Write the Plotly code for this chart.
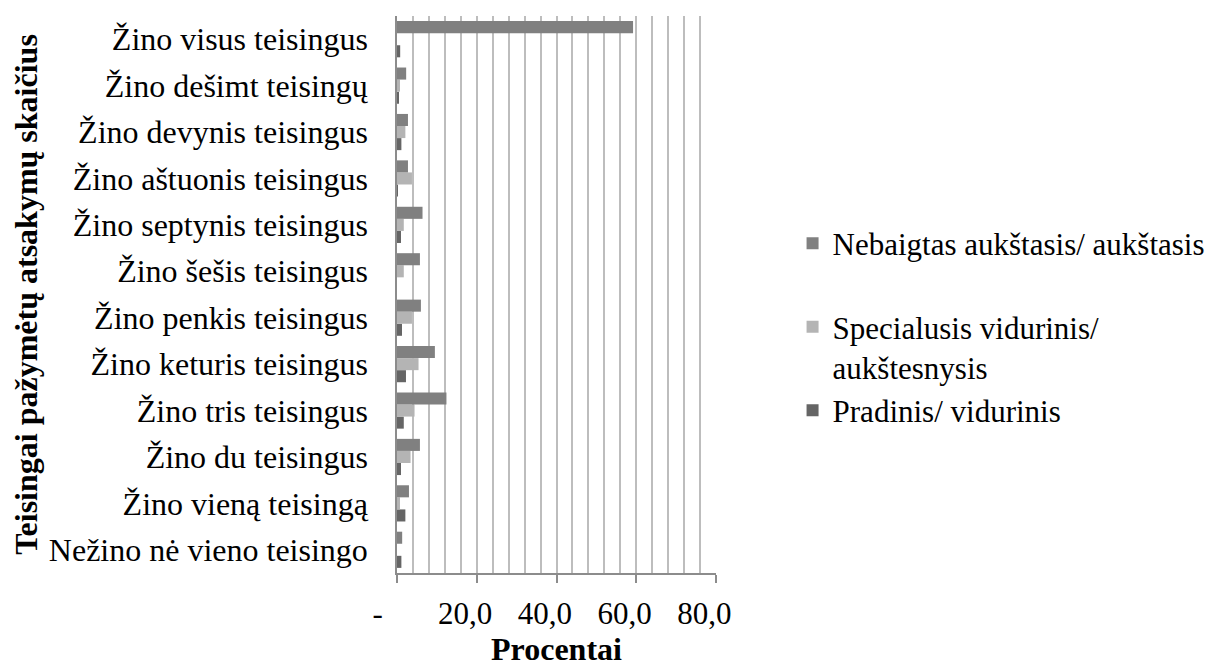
import plotly.graph_objects as go

categories = ["Nežino nė vieno teisingo", "Žino vieną teisingą", "Žino du teisingus",
              "Žino tris teisingus", "Žino keturis teisingus", "Žino penkis teisingus",
              "Žino šešis teisingus", "Žino septynis teisingus", "Žino aštuonis teisingus",
              "Žino devynis teisingus", "Žino dešimt teisingų", "Žino visus teisingus"]

nebaigtas = [1.3, 3.0, 5.75, 12.4, 9.5, 6.0, 5.75, 6.4, 2.75, 2.75, 2.3, 59.2]
specialusis = [0.0, 0.75, 3.4, 4.4, 5.4, 3.75, 1.7, 1.7, 3.75, 2.1, 0.75, 0.0]
pradinis = [1.1, 2.1, 1.0, 1.7, 2.25, 1.25, 0.0, 1.0, 0.25, 1.1, 0.4, 0.8]

nb = "\u00a0"
names = ["Pradinis/ vidurinis", "Specialusis vidurinis/<br>aukštesnysis",
         "Nebaigtas aukštasis/ aukštasis<br>" + nb]
ranks = [3, 2, 1]
colors = ["#656565", "#b4b4b4", "#808080"]

tick_vals = [0, 20, 40, 60, 80]
tick_text = ["-" + nb * 5, "20,0" + nb * 3, "40,0" + nb * 3, "60,0" + nb * 3, "80,0" + nb * 3]

FONT = "Liberation Serif, Times New Roman, Times, serif"
fig = go.Figure()
for name, vals, col, rk in zip(names, [pradinis, specialusis, nebaigtas], colors, ranks):
    fig.add_trace(go.Bar(y=categories, x=vals, name=name, orientation="h",
                         marker=dict(color=col, line=dict(width=0)),
                         legendgroup=name, legendrank=rk))

fig.update_layout(
    width=1210, height=661,
    margin=dict(l=389, r=500, t=8, b=96),
    paper_bgcolor="white", plot_bgcolor="white",
    barmode="group", bargap=0.22, bargroupgap=0,
    font=dict(family=FONT, size=31, color="black"),
    showlegend=True,
    legend=dict(x=1.24, y=0.64, xanchor="left", yanchor="top",
                traceorder="grouped", tracegroupgap=0,
                valign="top", font=dict(family=FONT, size=31, color="black"),
                bgcolor="rgba(0,0,0,0)"),
)
fig.update_xaxes(range=[0, 80], tickvals=tick_vals, ticktext=tick_text, tickangle=0,
                 automargin=False,
                 showgrid=True, gridcolor="#bdbdbd", gridwidth=1.5,
                 minor=dict(dtick=4, showgrid=True, gridcolor="#bdbdbd", gridwidth=1.5,
                            ticks=""),
                 ticks="outside", ticklen=8, tickcolor="#8c8c8c", tickwidth=1.5,
                 showline=True, linecolor="#8c8c8c", linewidth=1.5,
                 zeroline=False, ticklabelstandoff=4,
                 tickfont=dict(family=FONT, size=31, color="black"),
                 title=dict(text="<b>Procentai</b>",
                            font=dict(family=FONT, size=32, color="black"),
                            standoff=4))
fig.update_yaxes(categoryorder="array", categoryarray=categories, automargin=False,
                 showline=True, linecolor="#8c8c8c", linewidth=1.5,
                 showgrid=False, ticks="", ticklabelstandoff=21,
                 tickfont=dict(family=FONT, size=32, color="black"),
                 title=dict(text="<b>Teisingai pažymėtų atsakymų skaičius</b>",
                            font=dict(family=FONT, size=32, color="black"), standoff=8))

fig.write_html("out.html")
